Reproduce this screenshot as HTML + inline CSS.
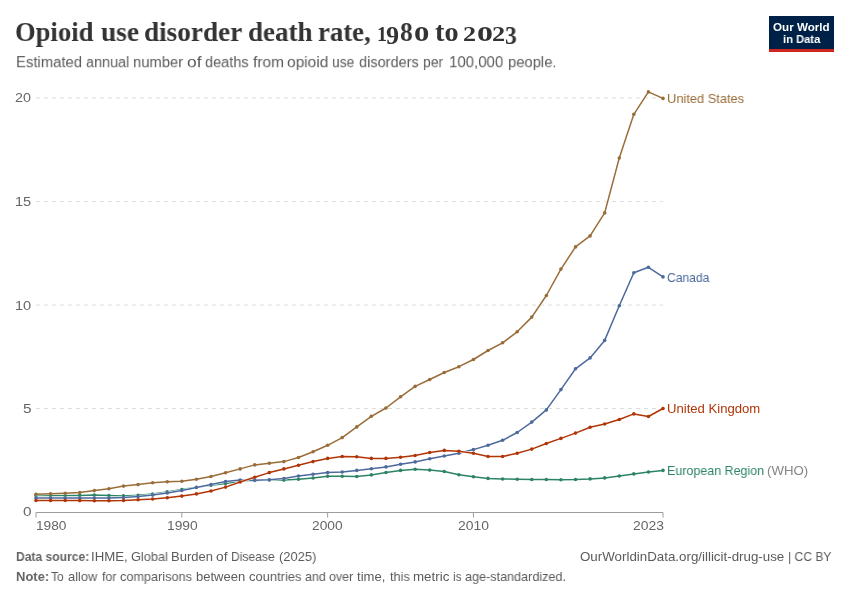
<!DOCTYPE html>
<html><head><meta charset="utf-8"><title>Opioid use disorder death rate, 1980 to 2023</title>
<style>
html,body{margin:0;padding:0;background:#fff;}
body{width:850px;height:600px;position:relative;overflow:hidden;font-family:"Liberation Sans",sans-serif;}
.t{position:absolute;white-space:pre;line-height:40px;transform-origin:0 0;will-change:transform;}
.s{font-family:"Liberation Sans",sans-serif;}
.f{font-family:"Liberation Serif",serif;}
#logo{position:absolute;left:769px;top:16px;width:65px;height:36px;background:#002147;}
#logo .bar{position:absolute;left:0;bottom:0;width:100%;height:3px;background:#CE261E;}
</style></head><body>
<svg width="850" height="600" viewBox="0 0 850 600" style="position:absolute;left:0;top:0"><line x1="36.0" x2="663.0" y1="98.0" y2="98.0" stroke="#dddddd" stroke-width="1" stroke-dasharray="4,4"/><line x1="36.0" x2="663.0" y1="201.6" y2="201.6" stroke="#dddddd" stroke-width="1" stroke-dasharray="4,4"/><line x1="36.0" x2="663.0" y1="305.1" y2="305.1" stroke="#dddddd" stroke-width="1" stroke-dasharray="4,4"/><line x1="36.0" x2="663.0" y1="408.5" y2="408.5" stroke="#dddddd" stroke-width="1" stroke-dasharray="4,4"/><line x1="36.0" x2="663.0" y1="512.5" y2="512.5" stroke="#9c9c9c" stroke-width="1"/><line x1="36.00" x2="36.00" y1="512.5" y2="517.5" stroke="#9c9c9c" stroke-width="1"/><line x1="181.81" x2="181.81" y1="512.5" y2="517.5" stroke="#9c9c9c" stroke-width="1"/><line x1="327.63" x2="327.63" y1="512.5" y2="517.5" stroke="#9c9c9c" stroke-width="1"/><line x1="473.44" x2="473.44" y1="512.5" y2="517.5" stroke="#9c9c9c" stroke-width="1"/><line x1="663.00" x2="663.00" y1="512.5" y2="517.5" stroke="#9c9c9c" stroke-width="1"/><path d="M36.00,495.40 L50.58,495.40 L65.16,495.40 L79.74,495.40 L94.33,495.10 L108.91,495.50 L123.49,495.90 L138.07,495.30 L152.65,494.10 L167.23,491.90 L181.81,489.50 L196.40,487.30 L210.98,485.30 L225.56,483.50 L240.14,481.30 L254.72,480.40 L269.30,480.00 L283.88,480.10 L298.47,479.20 L313.05,478.00 L327.63,476.30 L342.21,476.30 L356.79,476.50 L371.37,474.90 L385.95,472.50 L400.53,470.40 L415.12,469.30 L429.70,470.10 L444.28,471.50 L458.86,474.70 L473.44,476.80 L488.02,478.40 L502.60,479.00 L517.19,479.20 L531.77,479.50 L546.35,479.50 L560.93,479.70 L575.51,479.50 L590.09,478.90 L604.67,477.90 L619.26,476.00 L633.84,473.90 L648.42,472.00 L663.00,470.40" fill="none" stroke="#fff" stroke-width="2.5" stroke-linejoin="round" stroke-linecap="butt"/><path d="M36.00,495.40 L50.58,495.40 L65.16,495.40 L79.74,495.40 L94.33,495.10 L108.91,495.50 L123.49,495.90 L138.07,495.30 L152.65,494.10 L167.23,491.90 L181.81,489.50 L196.40,487.30 L210.98,485.30 L225.56,483.50 L240.14,481.30 L254.72,480.40 L269.30,480.00 L283.88,480.10 L298.47,479.20 L313.05,478.00 L327.63,476.30 L342.21,476.30 L356.79,476.50 L371.37,474.90 L385.95,472.50 L400.53,470.40 L415.12,469.30 L429.70,470.10 L444.28,471.50 L458.86,474.70 L473.44,476.80 L488.02,478.40 L502.60,479.00 L517.19,479.20 L531.77,479.50 L546.35,479.50 L560.93,479.70 L575.51,479.50 L590.09,478.90 L604.67,477.90 L619.26,476.00 L633.84,473.90 L648.42,472.00 L663.00,470.40" fill="none" stroke="#2C8465" stroke-width="1.5" stroke-linejoin="round" stroke-linecap="butt"/><circle cx="36.00" cy="495.40" r="1.8" fill="#2C8465"/><circle cx="50.58" cy="495.40" r="1.8" fill="#2C8465"/><circle cx="65.16" cy="495.40" r="1.8" fill="#2C8465"/><circle cx="79.74" cy="495.40" r="1.8" fill="#2C8465"/><circle cx="94.33" cy="495.10" r="1.8" fill="#2C8465"/><circle cx="108.91" cy="495.50" r="1.8" fill="#2C8465"/><circle cx="123.49" cy="495.90" r="1.8" fill="#2C8465"/><circle cx="138.07" cy="495.30" r="1.8" fill="#2C8465"/><circle cx="152.65" cy="494.10" r="1.8" fill="#2C8465"/><circle cx="167.23" cy="491.90" r="1.8" fill="#2C8465"/><circle cx="181.81" cy="489.50" r="1.8" fill="#2C8465"/><circle cx="196.40" cy="487.30" r="1.8" fill="#2C8465"/><circle cx="210.98" cy="485.30" r="1.8" fill="#2C8465"/><circle cx="225.56" cy="483.50" r="1.8" fill="#2C8465"/><circle cx="240.14" cy="481.30" r="1.8" fill="#2C8465"/><circle cx="254.72" cy="480.40" r="1.8" fill="#2C8465"/><circle cx="269.30" cy="480.00" r="1.8" fill="#2C8465"/><circle cx="283.88" cy="480.10" r="1.8" fill="#2C8465"/><circle cx="298.47" cy="479.20" r="1.8" fill="#2C8465"/><circle cx="313.05" cy="478.00" r="1.8" fill="#2C8465"/><circle cx="327.63" cy="476.30" r="1.8" fill="#2C8465"/><circle cx="342.21" cy="476.30" r="1.8" fill="#2C8465"/><circle cx="356.79" cy="476.50" r="1.8" fill="#2C8465"/><circle cx="371.37" cy="474.90" r="1.8" fill="#2C8465"/><circle cx="385.95" cy="472.50" r="1.8" fill="#2C8465"/><circle cx="400.53" cy="470.40" r="1.8" fill="#2C8465"/><circle cx="415.12" cy="469.30" r="1.8" fill="#2C8465"/><circle cx="429.70" cy="470.10" r="1.8" fill="#2C8465"/><circle cx="444.28" cy="471.50" r="1.8" fill="#2C8465"/><circle cx="458.86" cy="474.70" r="1.8" fill="#2C8465"/><circle cx="473.44" cy="476.80" r="1.8" fill="#2C8465"/><circle cx="488.02" cy="478.40" r="1.8" fill="#2C8465"/><circle cx="502.60" cy="479.00" r="1.8" fill="#2C8465"/><circle cx="517.19" cy="479.20" r="1.8" fill="#2C8465"/><circle cx="531.77" cy="479.50" r="1.8" fill="#2C8465"/><circle cx="546.35" cy="479.50" r="1.8" fill="#2C8465"/><circle cx="560.93" cy="479.70" r="1.8" fill="#2C8465"/><circle cx="575.51" cy="479.50" r="1.8" fill="#2C8465"/><circle cx="590.09" cy="478.90" r="1.8" fill="#2C8465"/><circle cx="604.67" cy="477.90" r="1.8" fill="#2C8465"/><circle cx="619.26" cy="476.00" r="1.8" fill="#2C8465"/><circle cx="633.84" cy="473.90" r="1.8" fill="#2C8465"/><circle cx="648.42" cy="472.00" r="1.8" fill="#2C8465"/><circle cx="663.00" cy="470.40" r="1.8" fill="#2C8465"/><path d="M36.00,498.00 L50.58,498.00 L65.16,498.00 L79.74,498.00 L94.33,498.00 L108.91,498.00 L123.49,497.50 L138.07,496.60 L152.65,495.10 L167.23,492.90 L181.81,490.50 L196.40,487.50 L210.98,484.60 L225.56,481.50 L240.14,480.10 L254.72,480.30 L269.30,479.80 L283.88,478.60 L298.47,476.00 L313.05,474.20 L327.63,472.60 L342.21,472.00 L356.79,470.40 L371.37,468.80 L385.95,466.90 L400.53,464.30 L415.12,461.90 L429.70,458.70 L444.28,456.00 L458.86,453.30 L473.44,449.60 L488.02,445.30 L502.60,440.30 L517.19,432.50 L531.77,422.10 L546.35,409.90 L560.93,389.60 L575.51,368.80 L590.09,357.90 L604.67,340.40 L619.26,305.70 L633.84,272.70 L648.42,267.30 L663.00,276.90" fill="none" stroke="#fff" stroke-width="2.5" stroke-linejoin="round" stroke-linecap="butt"/><path d="M36.00,498.00 L50.58,498.00 L65.16,498.00 L79.74,498.00 L94.33,498.00 L108.91,498.00 L123.49,497.50 L138.07,496.60 L152.65,495.10 L167.23,492.90 L181.81,490.50 L196.40,487.50 L210.98,484.60 L225.56,481.50 L240.14,480.10 L254.72,480.30 L269.30,479.80 L283.88,478.60 L298.47,476.00 L313.05,474.20 L327.63,472.60 L342.21,472.00 L356.79,470.40 L371.37,468.80 L385.95,466.90 L400.53,464.30 L415.12,461.90 L429.70,458.70 L444.28,456.00 L458.86,453.30 L473.44,449.60 L488.02,445.30 L502.60,440.30 L517.19,432.50 L531.77,422.10 L546.35,409.90 L560.93,389.60 L575.51,368.80 L590.09,357.90 L604.67,340.40 L619.26,305.70 L633.84,272.70 L648.42,267.30 L663.00,276.90" fill="none" stroke="#4C6A9C" stroke-width="1.5" stroke-linejoin="round" stroke-linecap="butt"/><circle cx="36.00" cy="498.00" r="1.8" fill="#4C6A9C"/><circle cx="50.58" cy="498.00" r="1.8" fill="#4C6A9C"/><circle cx="65.16" cy="498.00" r="1.8" fill="#4C6A9C"/><circle cx="79.74" cy="498.00" r="1.8" fill="#4C6A9C"/><circle cx="94.33" cy="498.00" r="1.8" fill="#4C6A9C"/><circle cx="108.91" cy="498.00" r="1.8" fill="#4C6A9C"/><circle cx="123.49" cy="497.50" r="1.8" fill="#4C6A9C"/><circle cx="138.07" cy="496.60" r="1.8" fill="#4C6A9C"/><circle cx="152.65" cy="495.10" r="1.8" fill="#4C6A9C"/><circle cx="167.23" cy="492.90" r="1.8" fill="#4C6A9C"/><circle cx="181.81" cy="490.50" r="1.8" fill="#4C6A9C"/><circle cx="196.40" cy="487.50" r="1.8" fill="#4C6A9C"/><circle cx="210.98" cy="484.60" r="1.8" fill="#4C6A9C"/><circle cx="225.56" cy="481.50" r="1.8" fill="#4C6A9C"/><circle cx="240.14" cy="480.10" r="1.8" fill="#4C6A9C"/><circle cx="254.72" cy="480.30" r="1.8" fill="#4C6A9C"/><circle cx="269.30" cy="479.80" r="1.8" fill="#4C6A9C"/><circle cx="283.88" cy="478.60" r="1.8" fill="#4C6A9C"/><circle cx="298.47" cy="476.00" r="1.8" fill="#4C6A9C"/><circle cx="313.05" cy="474.20" r="1.8" fill="#4C6A9C"/><circle cx="327.63" cy="472.60" r="1.8" fill="#4C6A9C"/><circle cx="342.21" cy="472.00" r="1.8" fill="#4C6A9C"/><circle cx="356.79" cy="470.40" r="1.8" fill="#4C6A9C"/><circle cx="371.37" cy="468.80" r="1.8" fill="#4C6A9C"/><circle cx="385.95" cy="466.90" r="1.8" fill="#4C6A9C"/><circle cx="400.53" cy="464.30" r="1.8" fill="#4C6A9C"/><circle cx="415.12" cy="461.90" r="1.8" fill="#4C6A9C"/><circle cx="429.70" cy="458.70" r="1.8" fill="#4C6A9C"/><circle cx="444.28" cy="456.00" r="1.8" fill="#4C6A9C"/><circle cx="458.86" cy="453.30" r="1.8" fill="#4C6A9C"/><circle cx="473.44" cy="449.60" r="1.8" fill="#4C6A9C"/><circle cx="488.02" cy="445.30" r="1.8" fill="#4C6A9C"/><circle cx="502.60" cy="440.30" r="1.8" fill="#4C6A9C"/><circle cx="517.19" cy="432.50" r="1.8" fill="#4C6A9C"/><circle cx="531.77" cy="422.10" r="1.8" fill="#4C6A9C"/><circle cx="546.35" cy="409.90" r="1.8" fill="#4C6A9C"/><circle cx="560.93" cy="389.60" r="1.8" fill="#4C6A9C"/><circle cx="575.51" cy="368.80" r="1.8" fill="#4C6A9C"/><circle cx="590.09" cy="357.90" r="1.8" fill="#4C6A9C"/><circle cx="604.67" cy="340.40" r="1.8" fill="#4C6A9C"/><circle cx="619.26" cy="305.70" r="1.8" fill="#4C6A9C"/><circle cx="633.84" cy="272.70" r="1.8" fill="#4C6A9C"/><circle cx="648.42" cy="267.30" r="1.8" fill="#4C6A9C"/><circle cx="663.00" cy="276.90" r="1.8" fill="#4C6A9C"/><path d="M36.00,500.45 L50.58,500.45 L65.16,500.45 L79.74,500.60 L94.33,500.70 L108.91,500.80 L123.49,500.50 L138.07,499.80 L152.65,499.00 L167.23,497.80 L181.81,496.10 L196.40,493.90 L210.98,491.00 L225.56,487.10 L240.14,482.00 L254.72,477.20 L269.30,472.60 L283.88,468.90 L298.47,465.30 L313.05,461.60 L327.63,458.40 L342.21,456.50 L356.79,456.80 L371.37,458.40 L385.95,458.40 L400.53,457.30 L415.12,455.50 L429.70,452.50 L444.28,450.40 L458.86,451.20 L473.44,453.30 L488.02,456.50 L502.60,456.50 L517.19,453.30 L531.77,449.10 L546.35,443.50 L560.93,438.40 L575.51,433.10 L590.09,427.20 L604.67,424.00 L619.26,419.50 L633.84,413.90 L648.42,416.50 L663.00,408.50" fill="none" stroke="#fff" stroke-width="2.5" stroke-linejoin="round" stroke-linecap="butt"/><path d="M36.00,500.45 L50.58,500.45 L65.16,500.45 L79.74,500.60 L94.33,500.70 L108.91,500.80 L123.49,500.50 L138.07,499.80 L152.65,499.00 L167.23,497.80 L181.81,496.10 L196.40,493.90 L210.98,491.00 L225.56,487.10 L240.14,482.00 L254.72,477.20 L269.30,472.60 L283.88,468.90 L298.47,465.30 L313.05,461.60 L327.63,458.40 L342.21,456.50 L356.79,456.80 L371.37,458.40 L385.95,458.40 L400.53,457.30 L415.12,455.50 L429.70,452.50 L444.28,450.40 L458.86,451.20 L473.44,453.30 L488.02,456.50 L502.60,456.50 L517.19,453.30 L531.77,449.10 L546.35,443.50 L560.93,438.40 L575.51,433.10 L590.09,427.20 L604.67,424.00 L619.26,419.50 L633.84,413.90 L648.42,416.50 L663.00,408.50" fill="none" stroke="#B13507" stroke-width="1.5" stroke-linejoin="round" stroke-linecap="butt"/><circle cx="36.00" cy="500.45" r="1.8" fill="#B13507"/><circle cx="50.58" cy="500.45" r="1.8" fill="#B13507"/><circle cx="65.16" cy="500.45" r="1.8" fill="#B13507"/><circle cx="79.74" cy="500.60" r="1.8" fill="#B13507"/><circle cx="94.33" cy="500.70" r="1.8" fill="#B13507"/><circle cx="108.91" cy="500.80" r="1.8" fill="#B13507"/><circle cx="123.49" cy="500.50" r="1.8" fill="#B13507"/><circle cx="138.07" cy="499.80" r="1.8" fill="#B13507"/><circle cx="152.65" cy="499.00" r="1.8" fill="#B13507"/><circle cx="167.23" cy="497.80" r="1.8" fill="#B13507"/><circle cx="181.81" cy="496.10" r="1.8" fill="#B13507"/><circle cx="196.40" cy="493.90" r="1.8" fill="#B13507"/><circle cx="210.98" cy="491.00" r="1.8" fill="#B13507"/><circle cx="225.56" cy="487.10" r="1.8" fill="#B13507"/><circle cx="240.14" cy="482.00" r="1.8" fill="#B13507"/><circle cx="254.72" cy="477.20" r="1.8" fill="#B13507"/><circle cx="269.30" cy="472.60" r="1.8" fill="#B13507"/><circle cx="283.88" cy="468.90" r="1.8" fill="#B13507"/><circle cx="298.47" cy="465.30" r="1.8" fill="#B13507"/><circle cx="313.05" cy="461.60" r="1.8" fill="#B13507"/><circle cx="327.63" cy="458.40" r="1.8" fill="#B13507"/><circle cx="342.21" cy="456.50" r="1.8" fill="#B13507"/><circle cx="356.79" cy="456.80" r="1.8" fill="#B13507"/><circle cx="371.37" cy="458.40" r="1.8" fill="#B13507"/><circle cx="385.95" cy="458.40" r="1.8" fill="#B13507"/><circle cx="400.53" cy="457.30" r="1.8" fill="#B13507"/><circle cx="415.12" cy="455.50" r="1.8" fill="#B13507"/><circle cx="429.70" cy="452.50" r="1.8" fill="#B13507"/><circle cx="444.28" cy="450.40" r="1.8" fill="#B13507"/><circle cx="458.86" cy="451.20" r="1.8" fill="#B13507"/><circle cx="473.44" cy="453.30" r="1.8" fill="#B13507"/><circle cx="488.02" cy="456.50" r="1.8" fill="#B13507"/><circle cx="502.60" cy="456.50" r="1.8" fill="#B13507"/><circle cx="517.19" cy="453.30" r="1.8" fill="#B13507"/><circle cx="531.77" cy="449.10" r="1.8" fill="#B13507"/><circle cx="546.35" cy="443.50" r="1.8" fill="#B13507"/><circle cx="560.93" cy="438.40" r="1.8" fill="#B13507"/><circle cx="575.51" cy="433.10" r="1.8" fill="#B13507"/><circle cx="590.09" cy="427.20" r="1.8" fill="#B13507"/><circle cx="604.67" cy="424.00" r="1.8" fill="#B13507"/><circle cx="619.26" cy="419.50" r="1.8" fill="#B13507"/><circle cx="633.84" cy="413.90" r="1.8" fill="#B13507"/><circle cx="648.42" cy="416.50" r="1.8" fill="#B13507"/><circle cx="663.00" cy="408.50" r="1.8" fill="#B13507"/><path d="M36.00,494.30 L50.58,493.70 L65.16,493.20 L79.74,492.50 L94.33,490.60 L108.91,488.70 L123.49,486.10 L138.07,484.60 L152.65,482.80 L167.23,481.80 L181.81,481.20 L196.40,479.30 L210.98,476.50 L225.56,472.80 L240.14,468.90 L254.72,464.90 L269.30,463.20 L283.88,461.60 L298.47,457.50 L313.05,451.80 L327.63,445.30 L342.21,437.60 L356.79,426.90 L371.37,416.30 L385.95,408.00 L400.53,396.80 L415.12,386.40 L429.70,379.50 L444.28,372.50 L458.86,366.70 L473.44,359.50 L488.02,350.50 L502.60,342.80 L517.19,331.80 L531.77,317.10 L546.35,295.50 L560.93,269.10 L575.51,246.90 L590.09,235.90 L604.67,212.90 L619.26,158.00 L633.84,114.30 L648.42,91.90 L663.00,98.40" fill="none" stroke="#fff" stroke-width="2.5" stroke-linejoin="round" stroke-linecap="butt"/><path d="M36.00,494.30 L50.58,493.70 L65.16,493.20 L79.74,492.50 L94.33,490.60 L108.91,488.70 L123.49,486.10 L138.07,484.60 L152.65,482.80 L167.23,481.80 L181.81,481.20 L196.40,479.30 L210.98,476.50 L225.56,472.80 L240.14,468.90 L254.72,464.90 L269.30,463.20 L283.88,461.60 L298.47,457.50 L313.05,451.80 L327.63,445.30 L342.21,437.60 L356.79,426.90 L371.37,416.30 L385.95,408.00 L400.53,396.80 L415.12,386.40 L429.70,379.50 L444.28,372.50 L458.86,366.70 L473.44,359.50 L488.02,350.50 L502.60,342.80 L517.19,331.80 L531.77,317.10 L546.35,295.50 L560.93,269.10 L575.51,246.90 L590.09,235.90 L604.67,212.90 L619.26,158.00 L633.84,114.30 L648.42,91.90 L663.00,98.40" fill="none" stroke="#996D39" stroke-width="1.5" stroke-linejoin="round" stroke-linecap="butt"/><circle cx="36.00" cy="494.30" r="1.8" fill="#996D39"/><circle cx="50.58" cy="493.70" r="1.8" fill="#996D39"/><circle cx="65.16" cy="493.20" r="1.8" fill="#996D39"/><circle cx="79.74" cy="492.50" r="1.8" fill="#996D39"/><circle cx="94.33" cy="490.60" r="1.8" fill="#996D39"/><circle cx="108.91" cy="488.70" r="1.8" fill="#996D39"/><circle cx="123.49" cy="486.10" r="1.8" fill="#996D39"/><circle cx="138.07" cy="484.60" r="1.8" fill="#996D39"/><circle cx="152.65" cy="482.80" r="1.8" fill="#996D39"/><circle cx="167.23" cy="481.80" r="1.8" fill="#996D39"/><circle cx="181.81" cy="481.20" r="1.8" fill="#996D39"/><circle cx="196.40" cy="479.30" r="1.8" fill="#996D39"/><circle cx="210.98" cy="476.50" r="1.8" fill="#996D39"/><circle cx="225.56" cy="472.80" r="1.8" fill="#996D39"/><circle cx="240.14" cy="468.90" r="1.8" fill="#996D39"/><circle cx="254.72" cy="464.90" r="1.8" fill="#996D39"/><circle cx="269.30" cy="463.20" r="1.8" fill="#996D39"/><circle cx="283.88" cy="461.60" r="1.8" fill="#996D39"/><circle cx="298.47" cy="457.50" r="1.8" fill="#996D39"/><circle cx="313.05" cy="451.80" r="1.8" fill="#996D39"/><circle cx="327.63" cy="445.30" r="1.8" fill="#996D39"/><circle cx="342.21" cy="437.60" r="1.8" fill="#996D39"/><circle cx="356.79" cy="426.90" r="1.8" fill="#996D39"/><circle cx="371.37" cy="416.30" r="1.8" fill="#996D39"/><circle cx="385.95" cy="408.00" r="1.8" fill="#996D39"/><circle cx="400.53" cy="396.80" r="1.8" fill="#996D39"/><circle cx="415.12" cy="386.40" r="1.8" fill="#996D39"/><circle cx="429.70" cy="379.50" r="1.8" fill="#996D39"/><circle cx="444.28" cy="372.50" r="1.8" fill="#996D39"/><circle cx="458.86" cy="366.70" r="1.8" fill="#996D39"/><circle cx="473.44" cy="359.50" r="1.8" fill="#996D39"/><circle cx="488.02" cy="350.50" r="1.8" fill="#996D39"/><circle cx="502.60" cy="342.80" r="1.8" fill="#996D39"/><circle cx="517.19" cy="331.80" r="1.8" fill="#996D39"/><circle cx="531.77" cy="317.10" r="1.8" fill="#996D39"/><circle cx="546.35" cy="295.50" r="1.8" fill="#996D39"/><circle cx="560.93" cy="269.10" r="1.8" fill="#996D39"/><circle cx="575.51" cy="246.90" r="1.8" fill="#996D39"/><circle cx="590.09" cy="235.90" r="1.8" fill="#996D39"/><circle cx="604.67" cy="212.90" r="1.8" fill="#996D39"/><circle cx="619.26" cy="158.00" r="1.8" fill="#996D39"/><circle cx="633.84" cy="114.30" r="1.8" fill="#996D39"/><circle cx="648.42" cy="91.90" r="1.8" fill="#996D39"/><circle cx="663.00" cy="98.40" r="1.8" fill="#996D39"/></svg>
<div id="logo"><div class="bar"></div></div>
<span class="t f" style="left:15.28px;top:12.10px;font-size:28px;color:#333333;font-weight:bold;transform:scaleX(0.9498);">Opioid</span>
<span class="t f" style="left:101.11px;top:12.10px;font-size:28px;color:#333333;font-weight:bold;transform:scaleX(0.9775);">use</span>
<span class="t f" style="left:144.49px;top:12.10px;font-size:28px;color:#333333;font-weight:bold;transform:scaleX(0.9713);">disorder</span>
<span class="t f" style="left:247.59px;top:12.10px;font-size:28px;color:#333333;font-weight:bold;transform:scaleX(0.9655);">death</span>
<span class="t f" style="left:318.48px;top:12.10px;font-size:28px;color:#333333;font-weight:bold;transform:scaleX(0.9540);">rate,</span>
<span class="t f" style="left:434.60px;top:12.10px;font-size:28px;color:#333333;font-weight:bold;transform:scaleX(1.0069);">to</span>
<span class="t f" style="left:376.50px;top:14.40px;font-size:20px;color:#333333;font-weight:bold;">1</span>
<span class="t f" style="left:386.20px;top:15.70px;font-size:24.5px;color:#333333;font-weight:bold;transform:scaleX(1.0667);">9</span>
<span class="t f" style="left:400.07px;top:11.60px;font-size:27.5px;color:#333333;font-weight:bold;transform:scaleX(0.9277);">8</span>
<span class="t f" style="left:413.62px;top:11.60px;font-size:28.5px;color:#333333;font-weight:bold;transform:scaleX(1.0776);">o</span>
<span class="t f" style="left:463.42px;top:14.40px;font-size:20px;color:#333333;font-weight:bold;transform:scaleX(1.3059);">2</span>
<span class="t f" style="left:476.58px;top:11.60px;font-size:28.5px;color:#333333;font-weight:bold;transform:scaleX(1.1184);">o</span>
<span class="t f" style="left:492.01px;top:14.40px;font-size:20px;color:#333333;font-weight:bold;transform:scaleX(1.3176);">2</span>
<span class="t f" style="left:504.74px;top:15.60px;font-size:24.5px;color:#333333;font-weight:bold;transform:scaleX(0.9619);">3</span>
<span class="t s" style="left:15.90px;top:43.78px;font-size:16px;color:#5b5b5b;transform:scale(0.9286,0.9300);">Estimated</span>
<span class="t s" style="left:85.52px;top:43.78px;font-size:16px;color:#5b5b5b;transform:scale(0.9016,0.9300);">annual</span>
<span class="t s" style="left:132.78px;top:43.78px;font-size:16px;color:#5b5b5b;transform:scale(0.9226,0.9300);">number</span>
<span class="t s" style="left:187.08px;top:43.78px;font-size:16px;color:#5b5b5b;transform:scale(1.0880,0.9300);">of</span>
<span class="t s" style="left:204.52px;top:43.78px;font-size:16px;color:#5b5b5b;transform:scale(0.9070,0.9300);">deaths</span>
<span class="t s" style="left:252.96px;top:43.78px;font-size:16px;color:#5b5b5b;transform:scale(0.9659,0.9300);">from</span>
<span class="t s" style="left:287.27px;top:43.78px;font-size:16px;color:#5b5b5b;transform:scale(0.9683,0.9300);">opioid</span>
<span class="t s" style="left:332.34px;top:43.78px;font-size:16px;color:#5b5b5b;transform:scale(0.8583,0.9300);">use</span>
<span class="t s" style="left:359.02px;top:43.78px;font-size:16px;color:#5b5b5b;transform:scale(0.9085,0.9300);">disorders</span>
<span class="t s" style="left:423.23px;top:43.78px;font-size:16px;color:#5b5b5b;transform:scale(0.8690,0.9300);">per</span>
<span class="t s" style="left:449.23px;top:43.78px;font-size:16px;color:#5b5b5b;transform:scale(0.9375,0.9300);">100,000</span>
<span class="t s" style="left:507.88px;top:43.78px;font-size:16px;color:#5b5b5b;transform:scale(0.9240,0.9300);">people.</span>
<span class="t s" style="left:773.29px;top:6.80px;font-size:11.5px;color:#fff;font-weight:bold;transform:scaleX(1.0100);">Our World</span>
<span class="t s" style="left:782.77px;top:18.70px;font-size:11.5px;color:#fff;font-weight:bold;transform:scaleX(0.9722);">in Data</span>
<span class="t s" style="left:15.37px;top:78.40px;font-size:13px;color:#666666;transform:scaleX(1.1019);">20</span>
<span class="t s" style="left:15.08px;top:182.10px;font-size:13px;color:#666666;transform:scaleX(1.1231);">15</span>
<span class="t s" style="left:15.08px;top:285.60px;font-size:13px;color:#666666;transform:scaleX(1.1231);">10</span>
<span class="t s" style="left:22.81px;top:389.00px;font-size:13px;color:#666666;transform:scaleX(1.1840);">5</span>
<span class="t s" style="left:22.81px;top:492.00px;font-size:13px;color:#666666;transform:scaleX(1.1840);">0</span>
<span class="t s" style="left:35.95px;top:506.00px;font-size:13px;color:#666666;transform:scaleX(1.0545);">1980</span>
<span class="t s" style="left:166.84px;top:506.00px;font-size:13px;color:#666666;transform:scaleX(1.0618);">1990</span>
<span class="t s" style="left:312.31px;top:506.00px;font-size:13px;color:#666666;transform:scaleX(1.0595);">2000</span>
<span class="t s" style="left:457.90px;top:506.00px;font-size:13px;color:#666666;transform:scaleX(1.0703);">2010</span>
<span class="t s" style="left:632.50px;top:506.00px;font-size:13px;color:#666666;transform:scaleX(1.0691);">2023</span>
<span class="t s" style="left:666.71px;top:79.00px;font-size:13px;color:#996D39;transform:scaleX(0.9882);">United States</span>
<span class="t s" style="left:666.80px;top:257.80px;font-size:13px;color:#4C6A9C;transform:scaleX(0.9318);">Canada</span>
<span class="t s" style="left:666.79px;top:389.20px;font-size:13px;color:#B13507;transform:scaleX(1.0083);">United Kingdom</span>
<span class="t s" style="left:666.84px;top:451.00px;font-size:13px;color:#2C8465;transform:scaleX(0.9592);">European Region</span>
<span class="t s" style="left:766.54px;top:451.00px;font-size:13px;color:#858585;transform:scaleX(1.0179);">(WHO)</span>
<span class="t s" style="left:16.20px;top:537.30px;font-size:13px;color:#646464;font-weight:bold;transform:scaleX(0.9290);">Data source:</span>
<span class="t s" style="left:91.23px;top:537.30px;font-size:13px;color:#5b5b5b;transform:scaleX(1.0163);">IHME,</span>
<span class="t s" style="left:131.06px;top:537.30px;font-size:13px;color:#5b5b5b;transform:scaleX(0.9806);">Global</span>
<span class="t s" style="left:171.30px;top:537.30px;font-size:13px;color:#5b5b5b;transform:scaleX(0.9975);">Burden</span>
<span class="t s" style="left:216.27px;top:537.30px;font-size:13px;color:#5b5b5b;transform:scaleX(1.0571);">of</span>
<span class="t s" style="left:231.07px;top:537.30px;font-size:13px;color:#5b5b5b;transform:scaleX(0.9297);">Disease</span>
<span class="t s" style="left:278.85px;top:537.30px;font-size:13px;color:#5b5b5b;transform:scaleX(0.9944);">(2025)</span>
<span class="t s" style="left:16.15px;top:557.00px;font-size:13px;color:#646464;font-weight:bold;transform:scaleX(0.9952);">Note:</span>
<span class="t s" style="left:51.27px;top:557.00px;font-size:13px;color:#5b5b5b;transform:scaleX(0.9231);">To</span>
<span class="t s" style="left:67.71px;top:557.00px;font-size:13px;color:#5b5b5b;transform:scaleX(0.9862);">allow</span>
<span class="t s" style="left:101.56px;top:557.00px;font-size:13px;color:#5b5b5b;transform:scaleX(0.9559);">for</span>
<span class="t s" style="left:120.31px;top:557.00px;font-size:13px;color:#5b5b5b;transform:scaleX(0.9759);">comparisons</span>
<span class="t s" style="left:195.95px;top:557.00px;font-size:13px;color:#5b5b5b;transform:scaleX(1.0021);">between</span>
<span class="t s" style="left:248.60px;top:557.00px;font-size:13px;color:#5b5b5b;transform:scaleX(0.9932);">countries</span>
<span class="t s" style="left:305.12px;top:557.00px;font-size:13px;color:#5b5b5b;transform:scaleX(0.9580);">and</span>
<span class="t s" style="left:329.32px;top:557.00px;font-size:13px;color:#5b5b5b;transform:scaleX(0.9551);">over</span>
<span class="t s" style="left:357.35px;top:557.00px;font-size:13px;color:#5b5b5b;transform:scaleX(1.0056);">time,</span>
<span class="t s" style="left:389.56px;top:557.00px;font-size:13px;color:#5b5b5b;transform:scaleX(0.9795);">this</span>
<span class="t s" style="left:413.17px;top:557.00px;font-size:13px;color:#5b5b5b;transform:scaleX(1.0265);">metric</span>
<span class="t s" style="left:453.33px;top:557.00px;font-size:13px;color:#5b5b5b;transform:scaleX(0.8970);">is</span>
<span class="t s" style="left:465.11px;top:557.00px;font-size:13px;color:#5b5b5b;transform:scaleX(0.9702);">age-standardized.</span>
<span class="t s" style="left:580.23px;top:537.30px;font-size:13px;color:#5b5b5b;transform:scaleX(1.0255);">OurWorldinData.org/illicit-drug-use</span>
<span class="t s" style="left:788.14px;top:537.30px;font-size:13px;color:#5b5b5b;transform:scaleX(0.9289);">| CC BY</span>
</body></html>
